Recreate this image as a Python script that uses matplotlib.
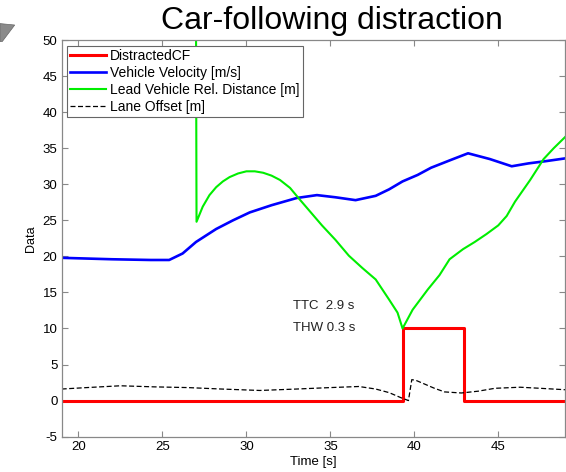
import numpy as np
import matplotlib
matplotlib.use("Agg")
import matplotlib.pyplot as plt
from matplotlib.patches import Polygon

plt.rcParams['font.family'] = ['Liberation Sans', 'DejaVu Sans']
plt.rcParams['axes.unicode_minus'] = False

# distraction flag (step signal)
cf_t = [19.0, 39.35, 39.35, 42.95, 42.95, 49.0]
cf_v = [0, 0, 10, 10, 0, 0]

# vehicle velocity [m/s]
vel_t = [19.0, 22.0, 24.3, 25.4, 26.2, 27.0, 28.2, 29.2, 30.2, 31.5, 33.0, 34.2,
         35.3, 36.5, 37.7, 38.5, 39.3, 40.2, 41.0, 42.2, 43.2, 44.5, 45.8, 46.8,
         47.8, 49.0]
vel_v = [19.8, 19.6, 19.5, 19.5, 20.4, 22.0, 23.8, 25.0, 26.1, 27.1, 28.1, 28.5,
         28.2, 27.8, 28.4, 29.3, 30.4, 31.3, 32.3, 33.4, 34.3, 33.5, 32.5, 32.9,
         33.2, 33.6]

# lead vehicle relative distance [m]
dist_t = [27.0, 27.03, 27.4, 27.8, 28.2, 28.6, 29.0, 29.5, 30.0, 30.5, 31.0, 31.5,
          32.0, 32.6, 33.1, 33.8, 34.5, 35.3, 36.1, 36.9, 37.7, 38.5, 39.0, 39.3,
          39.9, 40.8, 41.5, 42.1, 42.9, 43.6, 44.3, 45.0, 45.5, 46.0, 46.9, 47.7,
          48.3, 49.0]
dist_v = [52.0, 24.8, 26.9, 28.5, 29.6, 30.4, 31.0, 31.5, 31.8, 31.8, 31.6, 31.2,
          30.6, 29.5, 28.1, 26.2, 24.3, 22.3, 20.1, 18.4, 16.8, 14.0, 12.2, 10.0,
          12.6, 15.4, 17.4, 19.6, 21.0, 22.0, 23.1, 24.3, 25.6, 27.6, 30.6, 33.5,
          35.0, 36.6]

# lane offset [m]
lane_t = [19.0, 20.5, 22.5, 24.5, 26.5, 28.5, 30.8, 33.0, 35.0, 36.7, 37.7, 38.5,
          39.2, 39.65, 39.85, 40.1, 40.6, 41.2, 41.8, 42.8, 43.8, 44.8, 46.3, 47.5,
          49.0]
lane_v = [1.6, 1.8, 2.05, 1.9, 1.8, 1.6, 1.4, 1.6, 1.8, 1.95, 1.6, 1.1,
          0.4, 0.0, 2.9, 2.8, 2.3, 1.7, 1.2, 1.05, 1.3, 1.7, 1.85, 1.7,
          1.5]

fig = plt.figure(figsize=(5.66, 4.72), dpi=100)
ax = fig.add_axes([0.109, 0.075, 0.890, 0.840])

ax.plot(cf_t, cf_v, color='#ff0000', lw=2.2, label='DistractedCF')
ax.plot(vel_t, vel_v, color='#0000ff', lw=1.9, label='Vehicle Velocity [m/s]')
ax.plot(dist_t, dist_v, color='#00ee00', lw=1.5, label='Lead Vehicle Rel. Distance [m]')
ax.plot(lane_t, lane_v, color='black', lw=0.9, ls=(0, (4, 2)), label='Lane Offset [m]')

ax.text(32.8, 13.1, 'TTC  2.9 s', fontsize=9.5, va='center', ha='left', color='#222222')
ax.text(32.8, 10.0, 'THW 0.3 s', fontsize=9.5, va='center', ha='left', color='#222222')

ax.set_xlim(19, 49)
ax.set_ylim(-5, 50)
ax.set_xticks([20, 25, 30, 35, 40, 45])
ax.set_yticks(range(-5, 51, 5))
ax.tick_params(direction='in', length=4, color='#888888', labelsize=9.5,
               top=True, right=True, pad=3)
for s in ax.spines.values():
    s.set_color('#888888')
    s.set_linewidth(0.9)
ax.set_xlabel('Time [s]', fontsize=9.5, labelpad=2)
ax.set_ylabel('Data', fontsize=9, labelpad=4)

leg = ax.legend(loc='upper left', bbox_to_anchor=(0.0099, 0.9856), borderaxespad=0,
                fontsize=10, handlelength=2.6, handletextpad=0.3, labelspacing=0.22,
                borderpad=0.22, fancybox=False, framealpha=1, edgecolor='#666666')
leg.get_frame().set_linewidth(0.8)

fig.text(0.587, 0.955, 'Car-following distraction', fontsize=23, ha='center', va='center')

# partial slide graphic in the upper-left corner
fig.patches.append(Polygon([[0.0, 0.950], [0.026, 0.947], [0.004, 0.912], [0.0, 0.912]],
                           closed=True, transform=fig.transFigure,
                           facecolor='#8a8a8a', edgecolor='#666666', lw=0.5))

fig.savefig('out.png', dpi=100)
